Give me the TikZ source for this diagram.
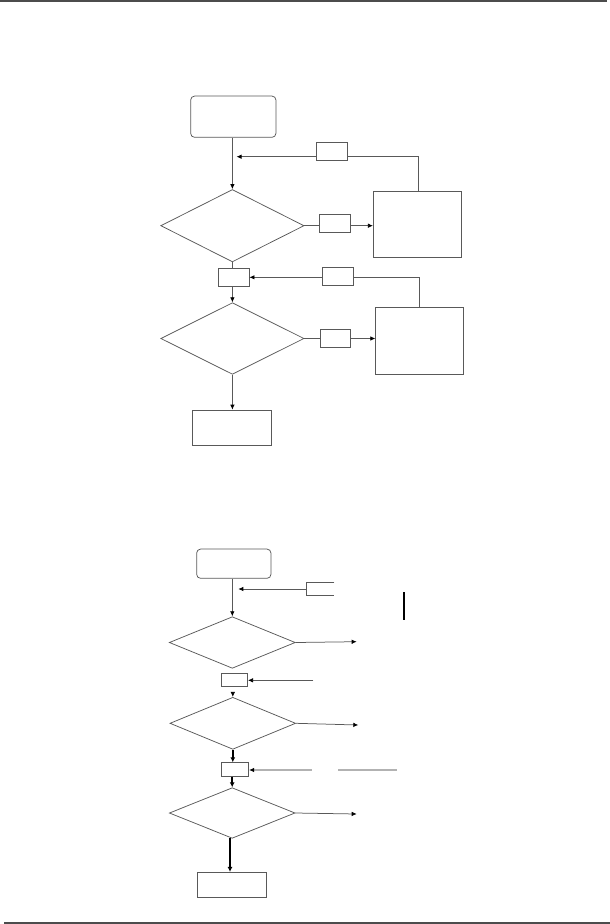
\documentclass[tikz,border=0pt]{standalone}
\usetikzlibrary{shapes.geometric,arrows.meta}
\begin{document}
\begin{tikzpicture}[x=1pt,y=-1pt,
  ln/.style={draw=black!65,line width=0.75pt},
  box/.style={ln,rectangle,inner sep=0pt},
  rbox/.style={box,rounded corners=4pt},
  dia/.style={ln,diamond,inner sep=0pt},
  arr/.style={ln,-{Latex[length=5pt,width=4.5pt,color=black]}},
  tarr/.style={draw=black,line width=1.5pt,-{Latex[length=5pt,width=5pt]}},
  garr/.style={draw=black!30,line width=1.4pt,-{Latex[length=5pt,width=4.5pt,color=black]}},
]
\useasboundingbox (0,0) rectangle (610,924);
% rules
\coordinate (tl) at (0,1); \coordinate (tr) at (607,1);
\coordinate (bl) at (4,923); \coordinate (br) at (610,923);
\draw[draw=black!70,line width=1.4pt] (tl) -- (tr);
\draw[draw=black!70,line width=1.4pt] (bl) -- (br);

% ---------- top chart ----------
\node[rbox,minimum width=85.3,minimum height=41.3] (s1) at (233.3,116.7) {};
\node[dia,minimum width=143.3,minimum height=72.4] (d1) at (232.4,225.7) {};
\node[box,minimum width=88.4,minimum height=66.4] (r1) at (417.5,224.5) {};
\node[box,minimum width=30.7,minimum height=18.3] (l1) at (334.7,223.2) {};
\node[box,minimum width=30.6,minimum height=18] (f1) at (332,151.3) {};
\node[box,minimum width=30.7,minimum height=18.4] (j1) at (233.7,277.5) {};
\node[box,minimum width=31,minimum height=18] (f2) at (337.8,276.3) {};
\node[dia,minimum width=143.3,minimum height=71.6] (d2) at (232.4,338.5) {};
\node[box,minimum width=30.4,minimum height=18] (l2) at (335.5,338.3) {};
\node[box,minimum width=87.6,minimum height=66.7] (r2) at (419.5,340.7) {};
\node[box,minimum width=79.4,minimum height=35.3] (e1) at (232,427.7) {};

\draw[arr] (s1.south -| d1.north) -- (d1.north);
\draw[ln] (d1.south) -- (j1.north -| d1.south);
\draw[arr] (j1.south -| d2.north) -- (d2.north);
\draw[arr] (d2.south) -- (e1.north -| d2.south);
\draw[ln] (d1.east) -- (d1.east -| l1.west);
\draw[arr] (l1.east |- d1.east) -- (r1.west |- d1.east);
\draw[ln] (d2.east) -- (d2.east -| l2.west);
\draw[arr] (l2.east |- d2.east) -- (r2.west |- d2.east);
% feedback 1
\coordinate (t1) at (418.3,156.7);
\coordinate (m1) at (236.5,156.7);
\draw[ln] (t1 |- r1.north) -- (t1) -- (t1 -| f1.east);
\draw[arr] (t1 -| f1.west) -- (m1);
% feedback 2
\coordinate (t2) at (419.3,277.3);
\draw[ln] (t2 |- r2.north) -- (t2) -- (t2 -| f2.east);
\draw[arr] (t2 -| f2.west) -- (t2 -| j1.east);

% ---------- bottom chart ----------
\node[rbox,minimum width=74.3,minimum height=29.3] (s2) at (233.8,563.7) {};
\node[dia,minimum width=126,minimum height=51.6] (d3) at (232.3,642.5) {};
\node[box,minimum width=26.7,minimum height=12.7] (b1) at (234.3,679.7) {};
\node[dia,minimum width=125.7,minimum height=52] (d4) at (232.8,723.3) {};
\node[box,minimum width=27.7,minimum height=13.6] (b2) at (234.8,769.5) {};
\node[dia,minimum width=125.7,minimum height=50.6] (d5) at (232.2,813) {};
\node[box,minimum width=69,minimum height=25] (b3) at (232.2,884.8) {};

\draw[arr] (s2.south -| d3.north) -- (d3.north);
% open bracket feedback
\coordinate (p1) at (334.3,582.3); \coordinate (p2) at (306.7,582.3);
\coordinate (p3) at (306.7,595.3); \coordinate (p4) at (334.3,595.3);
\coordinate (p5) at (306.7,589);   \coordinate (m2) at (238.3,589);
\draw[ln] (p1) -- (p2) -- (p3) -- (p4);
\draw[arr] (p5) -- (m2);
% black vertical stroke
\coordinate (v1) at (404,592.3); \coordinate (v2) at (404,620);
\draw[draw=black,line width=1.3pt] (v1) -- (v2);
% right outputs
\coordinate (o3) at (356.7,641.7);
\coordinate (o4) at (358.3,725);
\coordinate (o5) at (356.7,814);
\draw[arr] (d3.east) -- (o3);
\draw[arr] (d4.east) -- (o4);
\draw[arr] (d5.east) -- (o5);
% inputs to small boxes
\coordinate (i1) at (313.3,680.3);
\draw[arr] (i1) -- (b1.east |- i1);
\coordinate (i2) at (311.7,770);
\coordinate (g1) at (338.3,770); \coordinate (g2) at (396.7,770);
\draw[garr] (i2) -- (b2.east |- i2);
\draw[draw=black!30,line width=1.4pt] (g1) -- (g2);
% vertical flow
\draw[arr,shorten <=6pt] (b1.south -| d4.north) -- (d4.north);
\draw[tarr] (d4.south) -- (b2.north -| d4.south);
\draw[tarr] (b2.south -| d5.north) -- (d5.north);
\coordinate (q1) at (230,838.3);
\draw[tarr] (q1) -- (b3.north -| q1);
\end{tikzpicture}
\end{document}
